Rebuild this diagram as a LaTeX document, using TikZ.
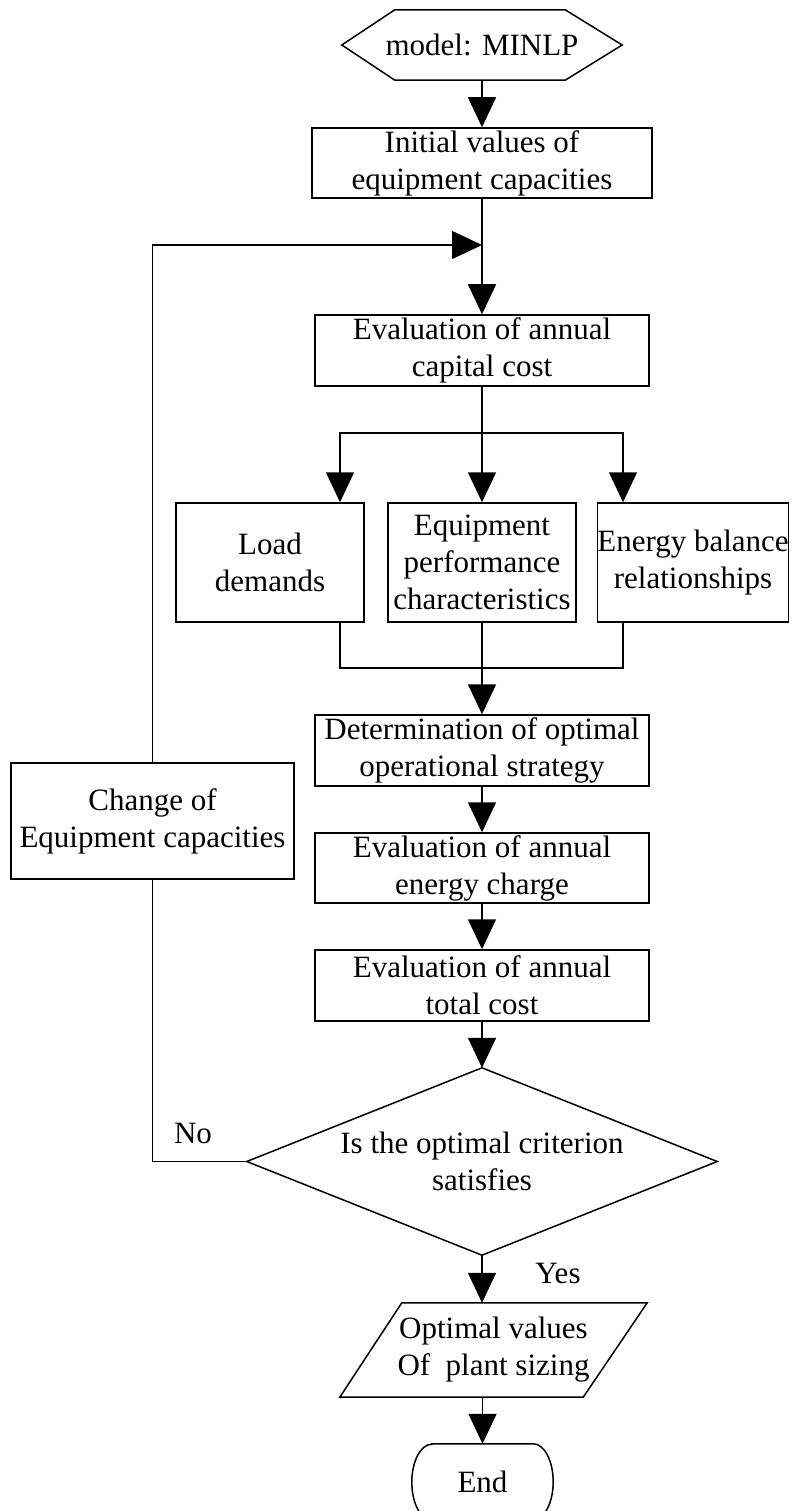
\documentclass[tikz,border=0pt]{standalone}
\usepackage{fontspec}
\setmainfont{Liberation Serif}
\usetikzlibrary{arrows.meta}
\begin{document}
\begin{tikzpicture}[x=1pt,y=-1pt,
  every node/.style={font=\fontsize{31}{37}\selectfont, inner sep=0pt, align=center},
  box/.style={draw, line width=1.5pt},
  shp/.style={line width=1.5pt},
  ln/.style={line width=1.5pt},
  arr/.style={line width=1.5pt, -{Triangle[length=30pt,width=28pt]}}]
\useasboundingbox (0,0) rectangle (792,1511);
\clip (0,0) rectangle (792,1511);
% nodes
\node[minimum width=280pt, minimum height=70pt] (hex) at (482,45) {model: MINLP};
\draw[shp] (hex.west) -- ([xshift=53pt]hex.north west) -- ([xshift=-57pt]hex.north east) -- (hex.east) -- ([xshift=-57pt]hex.south east) -- ([xshift=53pt]hex.south west) -- cycle;
\node[box, minimum width=340pt, minimum height=70pt] (b1) at (482,163) {Initial values of\\equipment capacities};
\node[box, minimum width=334pt, minimum height=71pt] (b2) at (482,350.5) {Evaluation of annual\\capital cost};
\node[box, minimum width=188pt, minimum height=119pt] (load) at (270,562.5) {Load\\demands};
\node[box, minimum width=188pt, minimum height=119pt] (equip) at (482,562.5) {Equipment\\performance\\characteristics};
\node[box, minimum width=188pt, minimum height=119pt] (energy) at (693,562.5) {Energy balance\\relationships};
\node[box, minimum width=334pt, minimum height=71pt] (det) at (482,750.5) {Determination of optimal\\operational strategy};
\node[box, minimum width=334pt, minimum height=70pt] (ech) at (482,868) {Evaluation of annual\\energy charge};
\node[box, minimum width=334pt, minimum height=71pt] (tot) at (482,985.5) {Evaluation of annual\\total cost};
\node[box, minimum width=283pt, minimum height=116pt] (chg) at (152.5,821) {Change of\\Equipment capacities};
\node[minimum width=470pt, minimum height=187pt] (dia) at (482,1161.5) {Is the optimal criterion\\satisfies};
\draw[shp] (dia.west) -- (dia.north) -- (dia.east) -- (dia.south) -- cycle;
\node[minimum width=307pt, minimum height=94pt] (par) at (493.5,1350) {Optimal values\\Of~ plant sizing};
\draw[shp] ([xshift=62pt]par.north west) -- (par.north east) -- ([xshift=-64pt]par.south east) -- (par.south west) -- cycle;
\node[minimum width=141pt, minimum height=76pt] (end) at (482.5,1482) {End};
\draw[shp] ([xshift=20pt]end.north west) -- ([xshift=-20pt]end.north east) arc[start angle=90, end angle=-90, x radius=20pt, y radius=38pt] -- ([xshift=20pt]end.south west) arc[start angle=270, end angle=90, x radius=20pt, y radius=38pt] -- cycle;
\node (no) at (193,1133) {No};
\node (yes) at (558,1273) {Yes};
% coordinates
\coordinate (j1) at (482,245);
\coordinate (sp) at (482,433);
\coordinate (lt) at (340,433);
\coordinate (rt) at (623,433);
\coordinate (lb) at (340,668);
\coordinate (rb) at (623,668);
\coordinate (mg) at (482,668);
% connectors
\draw[arr] (hex.south) -- (b1.north);
\draw[arr] (b1.south) -- (b2.north);
\draw[arr] (chg.north) |- (j1);
\draw[ln] (b2.south) -- (sp);
\draw[arr] (sp) -- (equip.north);
\draw[arr] (sp) -- (lt) -- (lt |- load.north);
\draw[arr] (sp) -- (rt) -- (rt |- energy.north);
\draw[ln] (lt |- load.south) -- (lb) -- (rb) -- (rt |- energy.south);
\draw[ln] (equip.south) -- (mg);
\draw[arr] (mg) -- (det.north);
\draw[arr] (det.south) -- (ech.north);
\draw[arr] (ech.south) -- (tot.north);
\draw[arr] (tot.south) -- (dia.north);
\draw[ln] (dia.west) -| (chg.south);
\draw[arr] (dia.south) -- (dia.south |- par.north);
\draw[arr] (end.north |- par.south) -- (end.north);
\end{tikzpicture}
\end{document}
